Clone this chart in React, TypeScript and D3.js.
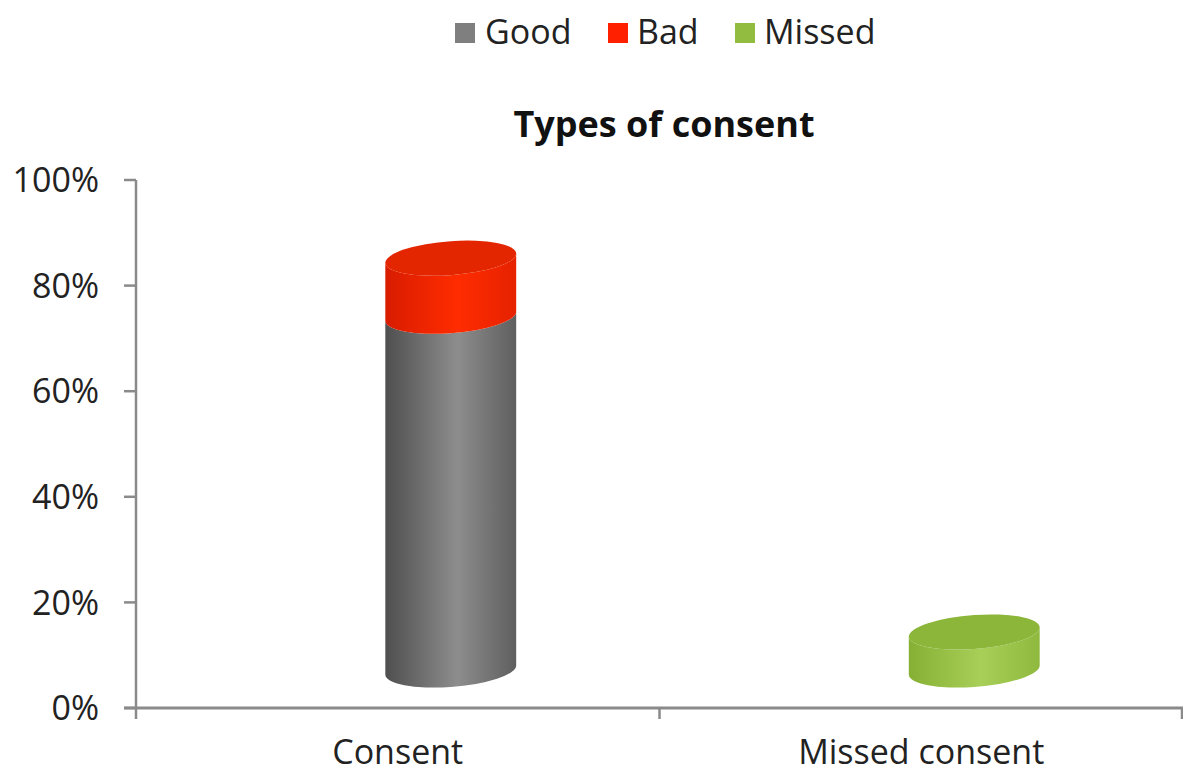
import React from "react";
import * as d3 from "d3";

const categories = ["Consent", "Missed consent"];
const seriesNames = ["Good", "Bad", "Missed"];
const goodValues = [0.67, 0];
const badValues = [0.11, 0];
const missedValues = [0, 0.072];
const yTicks = [0, 0.2, 0.4, 0.6, 0.8, 1.0];

const W = 1183;
const H = 775;
const FONT = "'Open Sans', 'DejaVu Sans', sans-serif";

const colors: Record<string, { left: string; mid: string; right: string; top: string; legend: string }> = {
  Good: { left: "#4f4f4f", mid: "#8d8d8d", right: "#5f5f5f", top: "#7a7a7a", legend: "#7f7f7f" },
  Bad: { left: "#d81c00", mid: "#ff2c00", right: "#e62200", top: "#e42600", legend: "#ff2000" },
  Missed: { left: "#86b034", mid: "#a8cf58", right: "#8fb93e", top: "#8cb63a", legend: "#92bc40" },
};

export default function App() {
  const rows = categories.map((c, i) => ({
    category: c,
    Good: goodValues[i],
    Bad: badValues[i],
    Missed: missedValues[i],
  }));
  const stacked = d3.stack<any>().keys(seriesNames)(rows);

  const y = d3.scaleLinear().domain([0, 1]).range([708, 180]);
  const x = d3.scaleBand().domain(categories).range([136, W]).padding(0);
  const fmt = d3.format(".0%");

  const depthDx = 53;
  const depthDy = -38;
  const cylW = x.bandwidth() * 0.25;
  const rx = cylW / 2;
  const ry = 17;
  const skew = Math.tan((-4 * Math.PI) / 180);

  const cylinders: React.ReactNode[] = [];
  categories.forEach((cat, ci) => {
    const cx = (x(cat) as number) + x.bandwidth() / 2 + depthDx;
    let topKey = "";
    stacked.forEach((s) => {
      const d = s[ci];
      if (d[1] - d[0] > 0) topKey = s.key;
    });
    const parts: React.ReactNode[] = [];
    stacked.forEach((s) => {
      const d = s[ci];
      if (d[1] - d[0] <= 0) return;
      const yb = y(d[0]) + depthDy;
      const yt = y(d[1]) + depthDy;
      const L = cx - rx;
      const R = cx + rx;
      const body = `M${L},${yt} L${L},${yb} A${rx},${ry} 0 0 0 ${R},${yb} L${R},${yt} A${rx},${ry} 0 0 1 ${L},${yt} Z`;
      parts.push(<path key={s.key + "b"} d={body} fill={`url(#grad-${s.key})`} />);
      if (s.key === topKey) {
        parts.push(
          <ellipse key={s.key + "t"} cx={cx} cy={yt} rx={rx} ry={ry} fill={colors[s.key].top} />
        );
      }
    });
    cylinders.push(
      <g key={cat} transform={`matrix(1,${skew},0,1,0,${-skew * cx})`}>
        {parts}
      </g>
    );
  });

  const legendItems = [
    { name: "Good", x: 455, tx: 485 },
    { name: "Bad", x: 608, tx: 637 },
    { name: "Missed", x: 735, tx: 764 },
  ];

  return (
    <svg width={W} height={H} style={{ position: "absolute", left: 0, top: 0, background: "#fff" }}>
      <defs>
        {seriesNames.map((k) => (
          <linearGradient key={k} id={`grad-${k}`} x1="0" x2="1" y1="0" y2="0">
            <stop offset="0%" stopColor={colors[k].left} />
            <stop offset="55%" stopColor={colors[k].mid} />
            <stop offset="100%" stopColor={colors[k].right} />
          </linearGradient>
        ))}
      </defs>

      {/* legend */}
      {legendItems.map((it) => (
        <g key={it.name}>
          <rect x={it.x} y={23} width={20} height={20} fill={colors[it.name].legend} />
          <text x={it.tx} y={44} fontFamily={FONT} fontSize={34} fill="#222">
            {it.name}
          </text>
        </g>
      ))}

      {/* title */}
      <text x={664} y={137} textAnchor="middle" fontFamily={FONT} fontSize={36} fontWeight="bold" fill="#111">
        Types of consent
      </text>

      {/* y axis */}
      <line x1={136} x2={136} y1={y(1)} y2={y(0)} stroke="#8a8a8a" strokeWidth={2.5} />
      {yTicks.map((t) => (
        <g key={t}>
          <line x1={124} x2={136} y1={y(t)} y2={y(t)} stroke="#8a8a8a" strokeWidth={2.5} />
          <text
            x={99}
            y={y(t)}
            dy="0.36em"
            textAnchor="end"
            fontFamily={FONT}
            fontSize={34}
            fill="#222"
          >
            {fmt(t)}
          </text>
        </g>
      ))}

      {/* cylinders */}
      {cylinders}

      {/* x axis */}
      <line x1={124} x2={W} y1={y(0)} y2={y(0)} stroke="#8a8a8a" strokeWidth={3} />
      {[136, 136 + x.bandwidth(), W - 1].map((tx, i) => (
        <line key={i} x1={tx} x2={tx} y1={y(0)} y2={y(0) + 11} stroke="#8a8a8a" strokeWidth={2.5} />
      ))}
      {categories.map((c) => (
        <text
          key={c}
          x={(x(c) as number) + x.bandwidth() / 2}
          y={764}
          textAnchor="middle"
          fontFamily={FONT}
          fontSize={34}
          fill="#222"
        >
          {c}
        </text>
      ))}
    </svg>
  );
}
